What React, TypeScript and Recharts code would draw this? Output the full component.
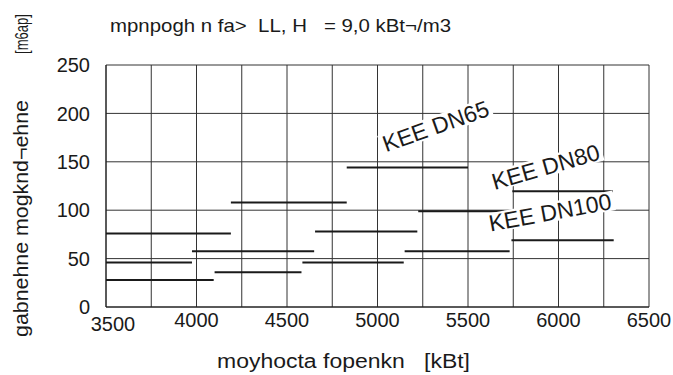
import { LineChart, Line, XAxis, YAxis, CartesianGrid, ReferenceDot } from "recharts";

const X_TICKS = [3500, 3750, 4000, 4250, 4500, 4750, 5000, 5250, 5500, 5750, 6000, 6250, 6500];
const Y_TICKS = [0, 50, 100, 150, 200, 250];

// horizontal operating ranges: start flow, end flow, level
const SEG_START = [3500, 3975, 3500, 3500, 4100, 4190, 4655, 4585, 4830, 5225, 5150, 5745, 5740];
const SEG_END = [4190, 4650, 3975, 4095, 4580, 4830, 5220, 5145, 5500, 5700, 5730, 6300, 6305];
const SEG_Y = [76, 57.5, 46, 28, 36, 108, 78, 46, 144, 99, 57.5, 119.5, 69];

const MODEL_NAMES = ["KEE DN65", "KEE DN80", "KEE DN100"];
const MODEL_X = [5321, 5929, 5953];
const MODEL_Y = [187, 145, 98];
const MODEL_ANGLE = [19.5, 16, 10.5];

const TITLE = "mpnpogh n fa>  LL, H   = 9,0 kBt¬/m3";
const X_LABEL = "moyhocta fopenkn   [kBt]";
const Y_LABEL = "gabnehne mogknd¬ehne";
const Y_UNIT = "[m6ap]";

const FONT = "'Liberation Sans', Arial, sans-serif";
const INK = "#1a1a1a";

const segments = SEG_Y.map((y, i) => [
  { x: SEG_START[i], y },
  { x: SEG_END[i], y },
]);

function XTick(props: any) {
  const { x, y, payload } = props;
  if (payload.value % 500 !== 0) return <g />;
  const first = payload.value === 3500;
  return (
    <text
      x={x + (first ? 7 : 0)}
      y={y + (first ? 4 : 0)}
      dy="0.71em"
      textAnchor="middle"
      fontSize={20}
      fontFamily={FONT}
      fill={INK}
    >
      {payload.value}
    </text>
  );
}

function ModelLabel(props: any) {
  const { cx, cy, text, angle } = props;
  const w = text.length * 13.6;
  return (
    <g transform={`translate(${cx},${cy}) rotate(${-angle})`}>
      <rect x={-w / 2 - 4} y={-10} width={w + 8} height={20} fill="#fff" />
      <text
        textAnchor="middle"
        dy="0.36em"
        fontSize={23}
        fontFamily={FONT}
        fill={INK}
      >
        {text}
      </text>
    </g>
  );
}

const pre = { whiteSpace: "pre" as const };

export default function App() {
  return (
    <div style={{ position: "absolute", left: 0, top: 0, width: 673, height: 375, background: "#fff" }}>
      <LineChart
        width={673}
        height={375}
        margin={{ top: 65, right: 24, bottom: 0, left: 0 }}
      >
        <CartesianGrid stroke="#333" strokeWidth={1} />
        <XAxis
          dataKey="x"
          type="number"
          domain={[3500, 6500]}
          ticks={X_TICKS}
          interval={0}
          allowDataOverflow
          height={68}
          tickLine={false}
          tickMargin={0}
          axisLine={{ stroke: INK }}
          tick={<XTick />}
        />
        <YAxis
          type="number"
          domain={[0, 250]}
          ticks={Y_TICKS}
          interval={0}
          width={106}
          tickLine={false}
          tickMargin={10}
          axisLine={{ stroke: INK }}
          tick={{ fontSize: 20, fill: INK, fontFamily: FONT }}
        />
        {MODEL_NAMES.map((name, i) => (
          <ReferenceDot
            key={name}
            x={MODEL_X[i]}
            y={MODEL_Y[i]}
            r={1}
            shape={(p: any) => (
              <ModelLabel cx={p.cx} cy={p.cy} text={name} angle={MODEL_ANGLE[i]} />
            )}
          />
        ))}
        {segments.map((d, i) => (
          <Line
            key={i}
            data={d}
            dataKey="y"
            type="linear"
            stroke={INK}
            strokeWidth={2}
            dot={false}
            activeDot={false}
            isAnimationActive={false}
          />
        ))}
      </LineChart>
      <svg
        width={673}
        height={375}
        style={{ position: "absolute", left: 0, top: 0, pointerEvents: "none" }}
      >
        <text
          x={110}
          y={31.7}
          fontSize={19}
          fontFamily={FONT}
          fill={INK}
          style={pre}
          textLength={341}
          lengthAdjust="spacingAndGlyphs"
        >
          {TITLE}
        </text>
        <text
          x={217}
          y={368}
          fontSize={20}
          fontFamily={FONT}
          fill={INK}
          style={pre}
          textLength={253}
          lengthAdjust="spacingAndGlyphs"
        >
          {X_LABEL}
        </text>
        <text
          transform="translate(28,337) rotate(-90)"
          fontSize={20}
          fontFamily={FONT}
          fill={INK}
          textLength={237}
          lengthAdjust="spacingAndGlyphs"
        >
          {Y_LABEL}
        </text>
        <text
          transform="translate(28,54) rotate(-90)"
          fontSize={18}
          fontFamily={FONT}
          fill={INK}
          textLength={40}
          lengthAdjust="spacingAndGlyphs"
        >
          {Y_UNIT}
        </text>
      </svg>
    </div>
  );
}
